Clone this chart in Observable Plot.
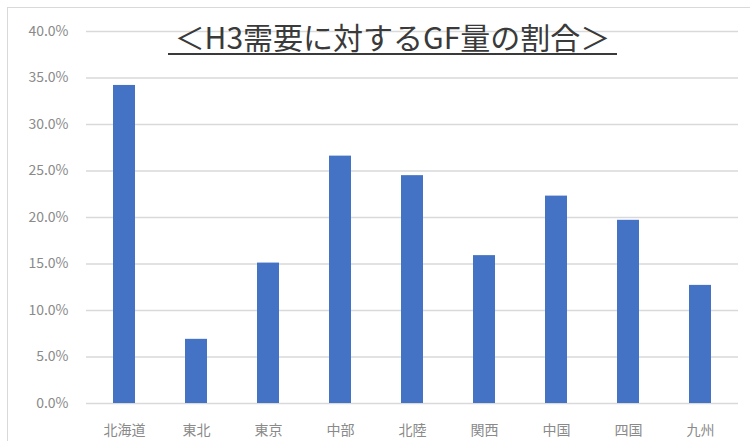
<!DOCTYPE html>
<html>
<head>
<meta charset="utf-8">
<script src="https://cdn.jsdelivr.net/npm/d3@7"></script>
<script src="https://cdn.jsdelivr.net/npm/@observablehq/plot@0.6"></script>
<style>
  html, body { margin: 0; padding: 0; background: #fff; }
  #wrap { position: relative; width: 750px; height: 441px; overflow: hidden; }
  #frame { position: absolute; left: 7px; top: 7px; width: 760px; height: 460px; border: 1px solid #d9d9d9; box-sizing: border-box; }
  #title {
    position: absolute; left: 160px; top: 14px; width: 465px; text-align: center;
    font-family: "Noto Sans CJK JP", sans-serif; font-size: 30px; color: #3a3a3a;
    white-space: nowrap;
  }
  #title span {
    display: inline-block; padding: 0 7px; line-height: 34px;
    border-bottom: 2px solid #3a3a3a;
  }
  #chart { position: absolute; left: 0; top: 0; }
</style>
</head>
<body>
<div id="wrap">
  <div id="frame"></div>
  <div id="chart"></div>
  <div id="title"><span>＜H3需要に対するGF量の割合＞</span></div>
</div>
<script>
// Regions and the share of GF volume against H3 demand (%)
const regions = ["北海道", "東北", "東京", "中部", "北陸", "関西", "中国", "四国", "九州"];
const shares = [34.2, 6.9, 15.1, 26.6, 24.5, 15.9, 22.3, 19.7, 12.7];
const yTicks = [0, 5, 10, 15, 20, 25, 30, 35, 40];

const data = regions.map((region, i) => ({region, share: shares[i]}));

const chart = Plot.plot({
  width: 750,
  height: 441,
  marginLeft: 86,
  marginRight: 12,
  marginTop: 31,
  marginBottom: 38,
  style: {fontFamily: "'Noto Sans CJK JP', sans-serif", background: "transparent"},
  x: {domain: regions, paddingInner: 0.7, paddingOuter: 0.35, label: null},
  y: {domain: [0, 40], ticks: yTicks, label: null},
  marks: [
    Plot.gridY(yTicks, {stroke: "#d9d9d9", strokeOpacity: 1, strokeWidth: 1.5}),
    Plot.barY(data, {x: "region", y: "share", fill: "#4472C4"}),
    Plot.axisY(yTicks, {
      tickSize: 0, tickPadding: 18, fontSize: 14, fill: "#8a8a8a",
      tickFormat: d => d.toFixed(1) + "%"
    }),
    Plot.axisX({tickSize: 0, tickPadding: 22, fontSize: 14, fill: "#8a8a8a"})
  ]
});
document.getElementById("chart").appendChild(chart);
</script>
</body>
</html>
